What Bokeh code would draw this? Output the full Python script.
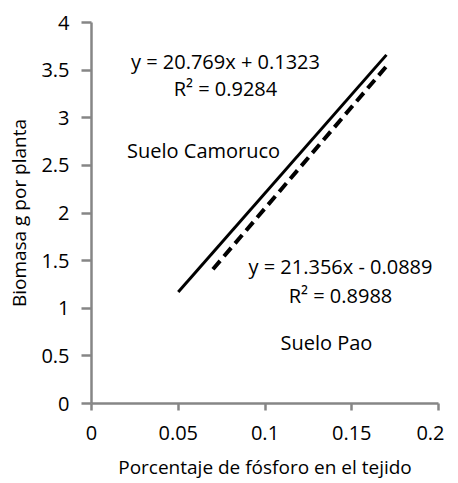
from bokeh.plotting import figure
from bokeh.models import Range1d, Label, FixedTicker
from bokeh.embed import file_html
from bokeh.resources import INLINE

# Trend lines (endpoints)
camoruco_x = [0.05, 0.17]
camoruco_y = [1.17, 3.66]
pao_x = [0.07, 0.17]
pao_y = [1.41, 3.54]

x_ticks = [0, 0.05, 0.1, 0.15, 0.2]
y_ticks = [0, 0.5, 1, 1.5, 2, 2.5, 3, 3.5, 4]

eq_camoruco = "y = 20.769x + 0.1323"
r2_camoruco = "R² = 0.9284"
eq_pao = "y = 21.356x - 0.0889"
r2_pao = "R² = 0.8988"

FONT = "Open Sans"
AXIS_COLOR = "#868686"

p = figure(frame_width=347, frame_height=381, output_backend="svg",
           toolbar_location=None, x_range=Range1d(0, 0.2), y_range=Range1d(0, 4),
           min_border_left=91, min_border_top=22, min_border_right=6, min_border_bottom=0)
p.outline_line_color = None
p.xgrid.grid_line_color = None
p.ygrid.grid_line_color = None

p.line(camoruco_x, camoruco_y, line_color="black", line_width=3)
p.line(pao_x, pao_y, line_color="black", line_width=4, line_dash="11 6")

for ax, ticks in ((p.xaxis[0], x_ticks), (p.yaxis[0], y_ticks)):
    ax.ticker = FixedTicker(ticks=ticks)
    ax.minor_tick_line_color = None
    ax.axis_line_color = AXIS_COLOR
    ax.axis_line_width = 2.5
    ax.major_tick_line_color = AXIS_COLOR
    ax.major_tick_line_width = 2.5
    ax.major_tick_in = 0
    ax.major_label_text_font = FONT
    ax.major_label_text_font_size = "20px"
    ax.major_label_text_color = "black"
    ax.axis_label_text_font = FONT
    ax.axis_label_text_font_size = "19px"
    ax.axis_label_text_font_style = "normal"
    ax.axis_label_text_color = "black"

p.xaxis.major_tick_out = 7
p.yaxis.major_tick_out = 10
p.xaxis.major_label_standoff = 15
p.yaxis.major_label_standoff = 12
p.xaxis.axis_label = "Porcentaje de fósforo en el tejido"
p.yaxis.axis_label = "Biomasa g por planta"
p.xaxis.axis_label_standoff = 11
p.yaxis.axis_label_standoff = 6
p.xaxis.major_label_overrides = {0: "0", 0.05: "0.05", 0.1: "0.1", 0.15: "0.15", 0.2: "0.2"}
p.yaxis.major_label_overrides = {0: "0", 0.5: "0.5", 1: "1", 1.5: "1.5", 2: "2", 2.5: "2.5", 3: "3", 3.5: "3.5", 4: "4"}

def add_label(x, y, txt):
    p.add_layout(Label(x=x, y=y, text=txt, text_font=FONT, text_font_size="20px",
                       text_align="center", text_baseline="middle", text_color="black"))

add_label(0.0772, 3.59, eq_camoruco)
add_label(0.0772, 3.307, r2_camoruco)
add_label(0.0646, 2.656, "Suelo Camoruco")
add_label(0.1435, 1.438, eq_pao)
add_label(0.1435, 1.134, r2_pao)
add_label(0.1354, 0.640, "Suelo Pao")

open("out.html", "w").write(file_html(p, INLINE))
